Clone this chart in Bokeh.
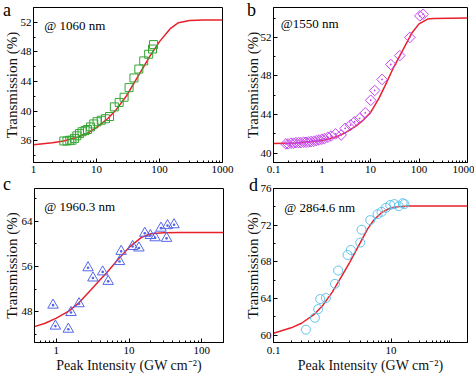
import math
from bokeh.plotting import figure
from bokeh.layouts import row, column
from bokeh.models import FixedTicker, CustomJSTickFormatter, Range1d, Label, Div
from bokeh.embed import file_html
from bokeh.resources import INLINE

# ---------------- data ----------------
# panel a (1060 nm)
a_x = [3.03, 3.4, 3.76, 4.08, 4.49, 4.88, 5.37, 5.9, 6.57, 7.2, 8.05, 9.06, 10.2, 11.9,
       13.9, 16.1, 19.2, 22.9, 27.4, 32.9, 39.3, 47.0, 56.2, 67.3, 77.5, 80.4]
a_y = [36.0, 36.0, 36.1, 36.1, 36.35, 36.7, 37.0, 37.25, 37.4, 37.55, 37.9, 38.3, 38.6, 38.8,
       39.0, 39.3, 40.6, 41.2, 41.9, 43.2, 44.5, 45.7, 46.8, 47.7, 48.4, 49.0]
a_fit_x = [1, 2, 3, 5, 7, 10, 15, 20, 30, 40, 50, 70, 100, 150, 200, 300, 500, 1000]
a_fit_y = [35.5, 35.75, 36.0, 36.5, 37.0, 37.8, 39.0, 40.1, 42.1, 43.9, 45.3, 47.4, 49.4,
           51.2, 51.95, 52.25, 52.3, 52.3]

# panel b (1550 nm)
b_x = [0.18, 0.20, 0.229, 0.26, 0.29, 0.33, 0.368, 0.419, 0.468, 0.53, 0.594, 0.675, 0.766,
       0.87, 0.99, 1.12, 1.32, 1.54, 1.9, 2.48, 3.0, 3.88, 4.7, 5.96, 7.8, 10.1, 12.2, 17.3,
       26.2, 40.2, 64.8, 104, 122]
b_y = [40.96, 40.96, 41.03, 41.03, 41.09, 41.09, 41.09, 41.13, 41.13, 41.16, 41.2, 41.23, 41.3,
       41.37, 41.44, 41.5, 41.65, 41.78, 41.99, 41.88, 42.57, 42.91, 43.25, 43.6, 44.18, 45.48,
       46.5, 47.64, 49.19, 50.11, 52.0, 54.23, 54.4]
b_fit_x = [0.1, 0.3, 1, 2, 3, 5, 7, 10, 15, 20, 30, 50, 70, 100, 150, 200, 1000]
b_fit_y = [41.0, 41.05, 41.3, 41.7, 42.1, 42.8, 43.4, 44.2, 45.7, 47.0, 48.9, 51.0, 52.4, 53.4,
           53.9, 53.95, 54.0]

# panel c (1960.3 nm)
c_x = [0.90, 0.97, 1.46, 1.59, 2.05, 2.73, 3.19, 4.34, 5.17, 7.41, 7.8, 11.2, 13.7, 16.5,
       19.7, 22.9, 27.6, 32.9, 33.9, 41.7]
c_y = [49.2, 45.5, 44.95, 47.9, 49.45, 55.8, 54.0, 55.07, 53.4, 56.9, 58.7, 59.56, 59.3, 61.9,
       61.5, 61.1, 62.8, 61.0, 63.25, 63.4]
c_fit_x = [0.5, 0.7, 1, 1.5, 2, 3, 4, 5, 7, 10, 15, 20, 30, 50, 200]
c_fit_y = [45.4, 46.0, 46.9, 48.2, 49.5, 51.9, 53.7, 55.0, 57.2, 59.4, 61.2, 61.8, 62.0, 62.05, 62.05]

# panel d (2864.6 nm)
d_x = [0.356, 0.506, 0.577, 0.624, 0.778, 1.11, 1.26, 1.82, 2.07, 3.0, 3.15, 4.43, 5.9, 6.9,
       8.2, 9.7, 11.4, 13.5, 15.8, 16.9]
d_y = [60.6, 61.9, 62.85, 63.94, 64.05, 65.6, 67.05, 68.75, 69.3, 70.1, 71.5, 72.55, 73.2, 73.45,
       73.9, 74.2, 74.3, 74.07, 74.4, 74.3]
d_fit_x = [0.1, 0.2, 0.3, 0.5, 0.7, 1, 1.5, 2, 3, 4, 5, 7, 10, 15, 20, 200]
d_fit_y = [60.2, 60.8, 61.3, 62.3, 63.3, 64.7, 66.6, 68.0, 70.1, 71.6, 72.5, 73.4, 73.9, 74.05,
           74.08, 74.1]

# tick labels
a_xticks = [1, 10, 100, 1000]
b_xticks = [0.1, 1, 10, 100, 1000]
c_xticks = [1, 10, 100]
d_xticks = [0.1, 10]
a_yticks = [36, 40, 44, 48, 52]
b_yticks = [40, 44, 48, 52]
c_yticks = [48, 56, 64]
d_yticks = [60, 64, 68, 72, 76]

FONT = "Liberation Serif"
RED = "#e8202a"


def log_minor(lo_exp, hi_exp, majors):
    out = []
    for e in range(lo_exp, hi_exp + 1):
        for m in range(1, 10):
            v = float(f"{m * 10 ** e:.6g}")
            if v not in majors:
                out.append(v)
    return out


def make_panel(w, h, xr, yr, xt, xmin, yt, ymin, borders, xlabel, ystand, xstand):
    l, r, t, b = borders
    p = figure(width=w, height=h, x_axis_type="log",
               x_range=Range1d(*xr), y_range=Range1d(*yr),
               output_backend="svg", toolbar_location=None,
               min_border_left=l, min_border_right=r, min_border_top=t, min_border_bottom=b)
    p.grid.visible = False
    p.outline_line_color = "black"
    p.outline_line_width = 1
    p.background_fill_color = "white"
    p.border_fill_color = "white"
    p.xaxis.ticker = FixedTicker(ticks=xt, minor_ticks=xmin)
    p.yaxis.ticker = FixedTicker(ticks=yt, minor_ticks=ymin)
    p.xaxis.formatter = CustomJSTickFormatter(code="return String(tick);")
    p.yaxis.formatter = CustomJSTickFormatter(code="return String(tick);")
    for ax in (p.xaxis[0], p.yaxis[0]):
        ax.axis_line_color = "black"
        ax.major_tick_in = 4
        ax.major_tick_out = 0
        ax.minor_tick_in = 2
        ax.minor_tick_out = 0
        ax.major_tick_line_color = "black"
        ax.minor_tick_line_color = "black"
        ax.major_label_text_font = FONT
        ax.major_label_text_font_size = "11px"
        ax.major_label_text_color = "black"
        ax.axis_label_text_font = FONT
        ax.axis_label_text_font_style = "normal"
        ax.axis_label_text_color = "#111111"
    p.yaxis.axis_label = "Transmission (%)"
    p.yaxis.axis_label_text_font_size = "15px"
    p.yaxis.major_label_standoff = 2
    p.yaxis.axis_label_standoff = ystand
    if xlabel:
        p.xaxis.major_label_standoff = 4
        p.xaxis.axis_label = "Peak Intensity (GW cm\u207b\u00b2)"
        p.xaxis.axis_label_text_font_size = "14px"
        p.xaxis.axis_label_standoff = xstand
    else:
        p.xaxis.major_label_standoff = 3
    return p


def add_text(p, x, y, txt, size):
    p.add_layout(Label(x=x, y=y, text=txt, text_font=FONT, text_font_size=size,
                       text_color="black", text_align="left", text_baseline="alphabetic"))


LETTER_CSS = (":host, :host * { font-family: 'Liberation Serif', 'Times New Roman', serif "
              "!important; font-size: 18px !important; line-height: 20px !important; "
              "color: black !important; }")


def letter(txt, left, top):
    return Div(text=txt, margin=0, stylesheets=[LETTER_CSS],
               styles={"position": "absolute", "left": f"{left}px", "top": f"{top}px",
                       "z-index": "10"})


# panel a
pa = make_panel(237, 180, (1, 1000), (33.1, 54.0), a_xticks, log_minor(0, 2, a_xticks),
                a_yticks, [34, 38, 42, 46, 50, 54], (29, 15, 6, 18), False, -2, 0)
pa.line(a_fit_x, a_fit_y, line_color=RED, line_width=1.5)
pa.scatter(a_x, a_y, marker="square", size=8, fill_color=None, line_color="#33a633", line_width=1)
add_text(pa, 1.48, 51.6, "@ 1060 nm", "13px")

# panel b
pb = make_panel(237, 180, (0.1, 1000), (39.03, 55.1), b_xticks, log_minor(-1, 2, b_xticks),
                b_yticks, [42, 46, 50, 54], (36, 7, 7, 17), False, -3, 0)
pb.line(b_fit_x, b_fit_y, line_color=RED, line_width=1.5)
pb.scatter(b_x, b_y, marker="square_dot", angle=math.pi / 4, size=7.5, fill_color=None,
           line_color="#c445f0", line_width=1)
add_text(pb, 0.1416, 53.4, "@1550 nm", "13px")

# panel c
pc = make_panel(237, 195, (0.5, 200), (42.6, 69.8), c_xticks, log_minor(-1, 2, c_xticks),
                c_yticks, [44, 52, 60, 68], (29, 14, 8, 33), True, -1, 1)
pc.line(c_fit_x, c_fit_y, line_color=RED, line_width=1.5)
pc.scatter(c_x, c_y, marker="triangle_dot", size=10.5, fill_color=None,
           line_color="#5566e8", line_width=1)
add_text(pc, 0.682, 66.7, "@ 1960.3 nm", "13px")

# panel d
pd_ = make_panel(237, 195, (0.1, 200), (59.2, 76.0), d_xticks, log_minor(-1, 2, d_xticks),
                 d_yticks, [62, 66, 70, 74], (36, 7, 8, 33), True, -3, 1)
pd_.line(d_fit_x, d_fit_y, line_color=RED, line_width=1.5)
pd_.scatter(d_x, d_y, marker="circle", size=9, fill_color=None,
            line_color="#5fc4ee", line_width=1)
add_text(pd_, 0.152, 73.9, "@ 2864.6 nm", "13px")

layout = column(row(pa, pb), row(pc, pd_),
                letter("a", 3, 0), letter("b", 247, 0),
                letter("c", 3, 174), letter("d", 249, 175))
layout.styles = {"position": "absolute", "left": "0px", "top": "0px"}

open("out.html", "w").write(file_html(layout, INLINE))
